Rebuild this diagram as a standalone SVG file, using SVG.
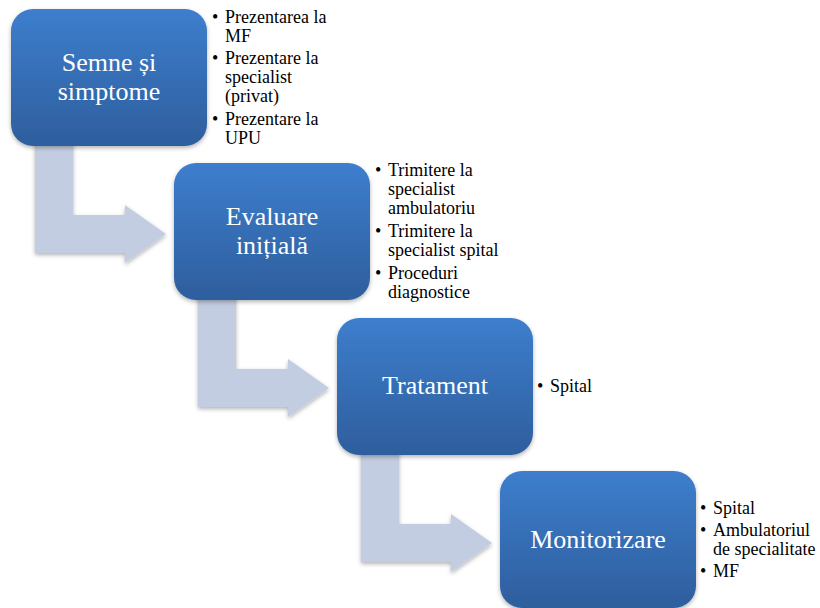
<svg xmlns="http://www.w3.org/2000/svg" width="820" height="608" viewBox="0 0 820 608">
  <defs>
    <linearGradient id="boxGrad" x1="0" y1="0" x2="0" y2="1">
      <stop offset="0" stop-color="#3d7ecd"/>
      <stop offset="1" stop-color="#2e5e9d"/>
    </linearGradient>
    <filter id="shadow" x="-10%" y="-10%" width="120%" height="125%">
      <feDropShadow dx="0" dy="2" stdDeviation="2" flood-color="#000" flood-opacity="0.3"/>
    </filter>
  </defs>

  <g id="connectors" fill="#c3cde1" filter="url(#shadow)">
    <path d="M35,140 L73,140 L73,215 L125,215 L125,205 L166,234 L125,263 L125,253 L35,253 Z"/>
    <path d="M198,295 L236,295 L236,369 L288,369 L288,359 L329,388 L288,417 L288,407 L198,407 Z"/>
    <path d="M361,450 L399,450 L399,524 L451,524 L451,514 L492,543 L451,572 L451,562 L361,562 Z"/>
  </g>

  <g id="node1">
    <rect x="11" y="9" width="196" height="137" rx="22" fill="url(#boxGrad)" filter="url(#shadow)"/>
    <text x="109" y="71" font-family="'Liberation Serif'" font-size="26" fill="#ffffff" text-anchor="middle">Semne și</text>
    <text x="109" y="100" font-family="'Liberation Serif'" font-size="26" fill="#ffffff" text-anchor="middle">simptome</text>
    <text x="212" y="23" font-family="'Liberation Serif'" font-size="18">•</text>
    <text x="225" y="23" font-family="'Liberation Serif'" font-size="18">Prezentarea la</text>
    <text x="225" y="42" font-family="'Liberation Serif'" font-size="18">MF</text>
    <text x="212" y="64" font-family="'Liberation Serif'" font-size="18">•</text>
    <text x="225" y="64" font-family="'Liberation Serif'" font-size="18">Prezentare la</text>
    <text x="225" y="83" font-family="'Liberation Serif'" font-size="18">specialist</text>
    <text x="225" y="102" font-family="'Liberation Serif'" font-size="18">(privat)</text>
    <text x="212" y="125" font-family="'Liberation Serif'" font-size="18">•</text>
    <text x="225" y="125" font-family="'Liberation Serif'" font-size="18">Prezentare la</text>
    <text x="225" y="144" font-family="'Liberation Serif'" font-size="18">UPU</text>
  </g>

  <g id="node2">
    <rect x="174" y="163" width="196" height="137" rx="22" fill="url(#boxGrad)" filter="url(#shadow)"/>
    <text x="272" y="225" font-family="'Liberation Serif'" font-size="26" fill="#ffffff" text-anchor="middle">Evaluare</text>
    <text x="272" y="254" font-family="'Liberation Serif'" font-size="26" fill="#ffffff" text-anchor="middle">inițială</text>
    <text x="375" y="176" font-family="'Liberation Serif'" font-size="18">•</text>
    <text x="388" y="176" font-family="'Liberation Serif'" font-size="18">Trimitere la</text>
    <text x="388" y="195" font-family="'Liberation Serif'" font-size="18">specialist</text>
    <text x="388" y="214" font-family="'Liberation Serif'" font-size="18">ambulatoriu</text>
    <text x="375" y="237" font-family="'Liberation Serif'" font-size="18">•</text>
    <text x="388" y="237" font-family="'Liberation Serif'" font-size="18">Trimitere la</text>
    <text x="388" y="256" font-family="'Liberation Serif'" font-size="18">specialist spital</text>
    <text x="375" y="279" font-family="'Liberation Serif'" font-size="18">•</text>
    <text x="388" y="279" font-family="'Liberation Serif'" font-size="18">Proceduri</text>
    <text x="388" y="298" font-family="'Liberation Serif'" font-size="18">diagnostice</text>
  </g>

  <g id="node3">
    <rect x="337" y="318" width="196" height="137" rx="22" fill="url(#boxGrad)" filter="url(#shadow)"/>
    <text x="435" y="394" font-family="'Liberation Serif'" font-size="26" fill="#ffffff" text-anchor="middle">Tratament</text>
    <text x="537" y="392" font-family="'Liberation Serif'" font-size="18">•</text>
    <text x="550" y="392" font-family="'Liberation Serif'" font-size="18">Spital</text>
  </g>

  <g id="node4">
    <rect x="500" y="471" width="196" height="137" rx="22" fill="url(#boxGrad)" filter="url(#shadow)"/>
    <text x="598" y="548" font-family="'Liberation Serif'" font-size="26" fill="#ffffff" text-anchor="middle">Monitorizare</text>
    <text x="700" y="514" font-family="'Liberation Serif'" font-size="18">•</text>
    <text x="713" y="514" font-family="'Liberation Serif'" font-size="18">Spital</text>
    <text x="700" y="536" font-family="'Liberation Serif'" font-size="18">•</text>
    <text x="713" y="536" font-family="'Liberation Serif'" font-size="18">Ambulatoriul</text>
    <text x="713" y="555" font-family="'Liberation Serif'" font-size="18">de specialitate</text>
    <text x="700" y="577" font-family="'Liberation Serif'" font-size="18">•</text>
    <text x="713" y="577" font-family="'Liberation Serif'" font-size="18">MF</text>
  </g>
</svg>
